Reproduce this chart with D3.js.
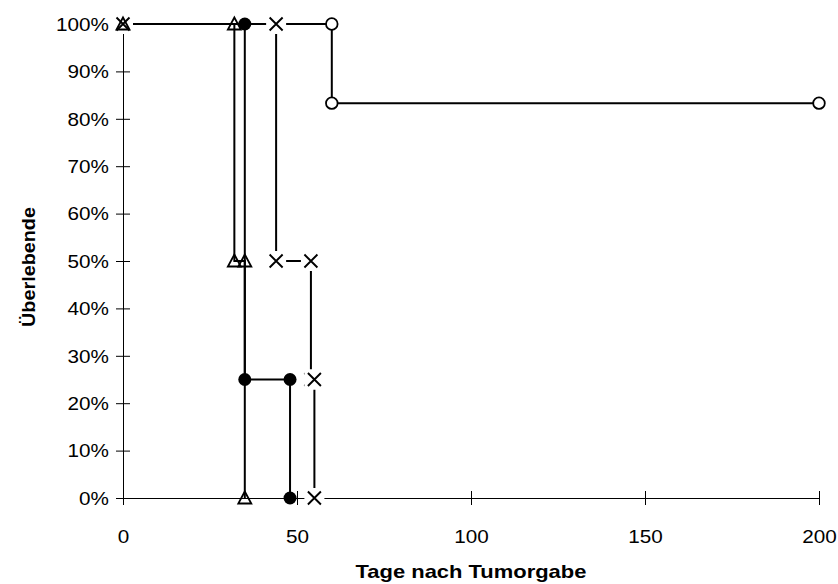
<!DOCTYPE html>
<html>
<head>
<meta charset="utf-8">
<script src="https://cdn.jsdelivr.net/npm/d3@7"></script>
<style>
  body { margin: 0; background: #fff; }
  text { font-family: "Liberation Sans", Arial, sans-serif; fill: #000; }
</style>
</head>
<body>
<div id="plot"></div>
<script>
// Kaplan-Meier style survival steps, one pair of arrays per group
const daysOpenCircle = [0, 60, 60, 200];
const survOpenCircle = [1, 1, 0.833, 0.833];

const daysFilledCircle = [0, 35, 35, 48, 48];
const survFilledCircle = [1, 1, 0.25, 0.25, 0];

const daysCross = [0, 44, 44, 54, 54, 55, 55];
const survCross = [1, 1, 0.5, 0.5, 0.25, 0.25, 0];

const daysTriangle = [0, 32, 32, 35, 35];
const survTriangle = [1, 1, 0.5, 0.5, 0];

const xTicks = [0, 50, 100, 150, 200];
const yTicks = [0, 0.1, 0.2, 0.3, 0.4, 0.5, 0.6, 0.7, 0.8, 0.9, 1];

const series = [
  { days: daysOpenCircle, surv: survOpenCircle, marker: "openCircle" },
  { days: daysFilledCircle, surv: survFilledCircle, marker: "filledCircle" },
  { days: daysCross, surv: survCross, marker: "cross" },
  { days: daysTriangle, surv: survTriangle, marker: "triangle" }
];

const width = 838;
const height = 584;
const margin = { top: 24, right: 19, bottom: 86, left: 123 };

const svg = d3.select("#plot")
  .append("svg")
  .attr("width", width)
  .attr("height", height);

const x = d3.scaleLinear()
  .domain([0, 200])
  .range([margin.left, width - margin.right]);

const y = d3.scaleLinear()
  .domain([0, 1])
  .range([height - margin.bottom, margin.top]);

// x axis, ticks cross the line
const xAxis = svg.append("g")
  .attr("transform", `translate(0,${y(0)})`)
  .call(d3.axisBottom(x).tickValues(xTicks).tickSize(7).tickPadding(0));
xAxis.select(".domain").attr("stroke", "#000");
xAxis.selectAll(".tick line").attr("y1", -7).attr("y2", 7).attr("stroke", "#000");
xAxis.selectAll(".tick text")
  .attr("y", 0)
  .attr("dy", 45)
  .attr("font-size", 18)
  .attr("transform", "scale(1.15,1)");

// y axis
const yAxis = svg.append("g")
  .attr("transform", `translate(${x(0)},0)`)
  .call(d3.axisLeft(y).tickValues(yTicks).tickFormat(d3.format(".0%")).tickSize(7));
yAxis.select(".domain").attr("stroke", "#000");
yAxis.selectAll(".tick line").attr("x1", -7).attr("x2", 7).attr("stroke", "#000");
yAxis.selectAll(".tick text")
  .attr("x", -14 / 1.15)
  .attr("dy", "0.35em")
  .attr("font-size", 18)
  .attr("transform", "scale(1.15,1)");

// Step lines
const line = d3.line()
  .x(d => x(d[0]))
  .y(d => y(d[1]));

series.forEach(s => {
  svg.append("path")
    .datum(d3.zip(s.days, s.surv))
    .attr("fill", "none")
    .attr("stroke", "#000")
    .attr("stroke-width", 2)
    .attr("d", line);
});

// Markers
series.forEach(s => {
  const g = svg.append("g");
  const pts = d3.zip(s.days, s.surv);
  pts.forEach(p => {
    const cx = x(p[0]), cy = y(p[1]);
    if (s.marker === "openCircle") {
      g.append("circle").attr("cx", cx).attr("cy", cy).attr("r", 5.8)
        .attr("fill", "#fff").attr("stroke", "#000").attr("stroke-width", 1.8);
    } else if (s.marker === "filledCircle") {
      g.append("circle").attr("cx", cx).attr("cy", cy).attr("r", 6.5)
        .attr("fill", "#000");
    } else if (s.marker === "cross") {
      g.append("rect").attr("x", cx - 10).attr("y", cy - 10)
        .attr("width", 20).attr("height", 20).attr("fill", "#fff");
      g.append("path")
        .attr("d", `M${cx - 6.5},${cy - 6.5}L${cx + 6.5},${cy + 6.5}M${cx - 6.5},${cy + 6.5}L${cx + 6.5},${cy - 6.5}`)
        .attr("stroke", "#000").attr("stroke-width", 1.9);
    } else {
      g.append("path")
        .attr("d", `M${cx},${cy - 6.5}L${cx + 6.5},${cy + 5.5}L${cx - 6.5},${cy + 5.5}Z`)
        .attr("fill", "none").attr("stroke", "#000").attr("stroke-width", 1.8);
    }
  });
});

// Axis titles
svg.append("text")
  .attr("transform", `translate(${(x(0) + x(200)) / 2},578) scale(1.22,1)`)
  .attr("text-anchor", "middle")
  .attr("font-size", 18)
  .attr("font-weight", "bold")
  .text("Tage nach Tumorgabe");

svg.append("text")
  .attr("transform", `translate(35,${(y(0) + y(1)) / 2 + 6}) rotate(-90) scale(1.1,1)`)
  .attr("text-anchor", "middle")
  .attr("font-size", 18)
  .attr("font-weight", "bold")
  .text("Überlebende");
</script>
</body>
</html>
